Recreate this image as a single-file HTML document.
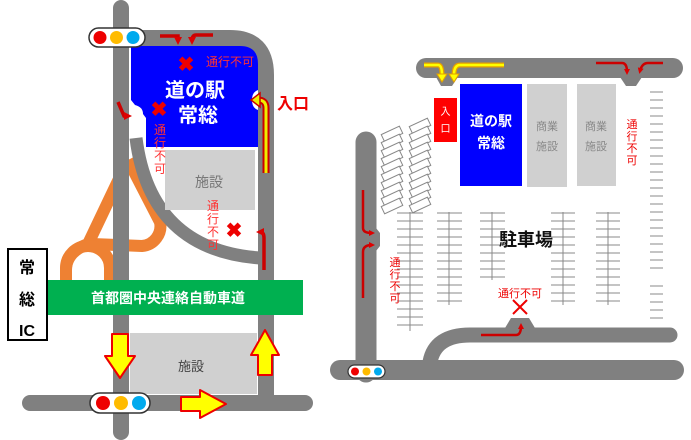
<!DOCTYPE html>
<html><head><meta charset="utf-8"><style>
html,body{margin:0;padding:0;background:#fff;}
svg{display:block;font-family:"Liberation Sans","Noto Sans CJK JP",sans-serif;}
</style></head><body>
<svg width="691" height="440" viewBox="0 0 691 440" xmlns="http://www.w3.org/2000/svg">
<defs>
<marker id="ah" markerWidth="8" markerHeight="8" refX="4" refY="4" orient="auto" markerUnits="userSpaceOnUse"><path d="M0,0 L8,4 L0,8 z" fill="#d00"/></marker>
<marker id="as" markerWidth="6" markerHeight="6" refX="3" refY="3" orient="auto" markerUnits="userSpaceOnUse"><path d="M0,0 L6,3 L0,6 z" fill="#d00"/></marker>
<g id="st"><rect x="-10" y="-4" width="20" height="8" transform="rotate(-25)"/></g>
</defs>
<g fill="none" stroke="#ee8133" stroke-width="12" stroke-linejoin="round">
<path d="M66 284 V270 Q66 252 88 244 L128 160"/>
<path d="M128 160 L160 222 A20 20 0 0 1 142 246 L92 244"/>
<path d="M66 284 V268 A22 22 0 0 1 110 268 V284"/>
</g>
<g fill="none" stroke="#808080" stroke-width="16" stroke-linecap="round">
<line x1="121" y1="8" x2="121" y2="432"/>
<path d="M121 38 H230 Q266 38 266 75 V403"/>
<line x1="30" y1="403" x2="305" y2="403"/>
</g>
<path d="M136 138 Q150 250 260 258" fill="none" stroke="#808080" stroke-width="13"/>
<path d="M131 46 H240 Q258 46 258 64 V90 Q252 92 252 100 Q252 108 258 110 V147 H146 V118 L143 114 Q143 107 135 105 L131 100 Z" fill="#0000ff"/>
<rect x="165" y="150" width="90" height="60" fill="#d0d0d0"/>
<text x="209" y="187" font-size="14" fill="#777" text-anchor="middle">施設</text>
<text x="195" y="97" font-size="20" font-weight="bold" fill="#fff" text-anchor="middle">道の駅</text>
<text x="198" y="122" font-size="20" font-weight="bold" fill="#fff" text-anchor="middle">常総</text>
<g fill="#e00" font-weight="bold" font-size="20" text-anchor="middle">
<text x="186" y="71">✖</text><text x="159" y="116">✖</text><text x="234" y="237">✖</text>
</g>
<text x="206" y="66" font-size="12" fill="#f33">通行不可</text>
<g font-size="12" fill="#f33" text-anchor="middle">
<text x="160" y="134">通</text><text x="160" y="147">行</text><text x="160" y="160">不</text><text x="160" y="173">可</text>
<text x="213" y="210">通</text><text x="213" y="223">行</text><text x="213" y="236">不</text><text x="213" y="249">可</text>
</g>
<g fill="none" stroke="#c00" stroke-width="3.5">
<path d="M160 36 H178 V41" marker-end="url(#ah)"/>
<path d="M213 35 H196 Q192 35 192 41" marker-end="url(#ah)"/>
<path d="M118 102 L124 116 L128 116" marker-end="url(#ah)"/>
<path d="M264 270 V238 Q264 232 260 232" marker-end="url(#ah)"/>
</g>
<path d="M266 173 V108 Q266 100 258 100" fill="none" stroke="#c00" stroke-width="7"/>
<path d="M266 173 V108 Q266 100 258 100" fill="none" stroke="#ee0" stroke-width="3"/>
<path d="M251 100 L260 93 L260 107 Z" fill="#ee0" stroke="#c00" stroke-width="1.5"/>
<text x="277" y="109" font-size="16" font-weight="bold" fill="#e00">入口</text>
<rect x="47" y="280" width="256" height="35" fill="#00b050"/>
<text x="168" y="303" font-size="14" font-weight="bold" fill="#fff" text-anchor="middle">首都圏中央連絡自動車道</text>
<rect x="8" y="249" width="39" height="91" fill="#fff" stroke="#000" stroke-width="2"/>
<g font-size="16" font-weight="bold" text-anchor="middle" fill="#000">
<text x="27" y="273">常</text><text x="27" y="305">総</text><text x="27" y="336">IC</text>
</g>
<rect x="130" y="333" width="127" height="61" fill="#d0d0d0"/>
<text x="191" y="371" font-size="13" fill="#444" text-anchor="middle">施設</text>
<g fill="#ff0" stroke="#e00" stroke-width="2" stroke-linejoin="round">
<path d="M112 334 H128 V356 H135 L120 378 L105 356 H112 Z"/>
<path d="M258 375 H272 V355 H279 L265 330 L251 355 H258 Z"/>
<path d="M181 397 H200 V390 L226 404 L200 418 V411 H181 Z"/>
</g>
<rect x="89" y="28" width="56" height="19" rx="9.5" fill="#fff" stroke="#333" stroke-width="1.5"/>
<circle cx="100" cy="37.5" r="6.5" fill="#e00"/><circle cx="116.5" cy="37.5" r="6.5" fill="#fb0"/><circle cx="133" cy="37.5" r="6.5" fill="#0ae"/>
<rect x="90" y="393" width="60" height="20" rx="10" fill="#fff" stroke="#333" stroke-width="1.5"/>
<circle cx="103" cy="403" r="7" fill="#e00"/><circle cx="121" cy="403" r="7" fill="#fb0"/><circle cx="139" cy="403" r="7" fill="#0ae"/>

<g fill="none" stroke="#808080" stroke-linecap="round">
<line x1="426" y1="68" x2="673" y2="68" stroke-width="20"/>
<line x1="366" y1="142" x2="366" y2="372" stroke-width="21"/>
<line x1="340" y1="370" x2="674" y2="370" stroke-width="20"/>
<path d="M430 362 Q435 335 470 335 H670" stroke-width="15"/>
</g>
<path d="M436 77 H458 L452 86 H441 Z" fill="#808080"/>
<path d="M620 77 H642 L636 86 H626 Z" fill="#808080"/>
<path d="M376 228 L380 233 V246 L376 251 Z" fill="#808080"/>
<path d="M505 328 L511 318 H529 L535 328 Z" fill="#808080"/>
<rect x="434" y="98" width="23" height="44" fill="#f00"/>
<text x="445.5" y="115" font-size="10" fill="#fff" text-anchor="middle">入</text>
<text x="445.5" y="132" font-size="10" fill="#fff" text-anchor="middle">口</text>
<rect x="460" y="84" width="62" height="102" fill="#0000ff"/>
<text x="491" y="126" font-size="14" font-weight="bold" fill="#fff" text-anchor="middle">道の駅</text>
<text x="491" y="148" font-size="14" font-weight="bold" fill="#fff" text-anchor="middle">常総</text>
<rect x="527" y="84" width="40" height="103" fill="#d0d0d0"/>
<rect x="577" y="84" width="39" height="102" fill="#d0d0d0"/>
<g font-size="11" fill="#888" text-anchor="middle">
<text x="547" y="130">商業</text><text x="547" y="150">施設</text>
<text x="596" y="130">商業</text><text x="596" y="150">施設</text>
</g>
<g stroke="#888" stroke-width="1">
<path d="M650 92H663M650 100H663M650 108H663M650 116H663M650 124H663M650 132H663M650 140H663M650 148H663M650 156H663M650 164H663M650 172H663M650 180H663M650 188H663M650 196H663M650 204H663M650 212H663M650 220H663M650 228H663M650 236H663M650 244H663M650 252H663M650 260H663M650 268H663M650 286H663M650 294H663M650 302H663M650 310H663M650 318H663"/>
</g>
<g stroke="#888" stroke-width="1" fill="none">
<path d="M410 212V331M397 213H423M397 221H423M397 229H423M397 237H423M397 245H423M397 253H423M397 261H423M397 269H423M397 277H423M397 285H423M397 293H423M397 301H423M397 309H423M397 317H423M397 325H423"/>
<path d="M449 212V305M437 213H462M437 221H462M437 229H462M437 237H462M437 245H462M437 253H462M437 261H462M437 269H462M437 277H462M437 285H462M437 293H462M437 301H462"/>
<path d="M492 212V280M480 213H505M480 221H505M480 229H505M480 237H505M480 245H505M480 253H505M480 261H505M480 269H505M480 277H505"/>
<path d="M563 212V305M551 213H575M551 221H575M551 229H575M551 237H575M551 245H575M551 253H575M551 261H575M551 269H575M551 277H575M551 285H575M551 293H575M551 301H575"/>
<path d="M608 212V305M596 213H620M596 221H620M596 229H620M596 237H620M596 245H620M596 253H620M596 261H620M596 269H620M596 277H620M596 285H620M596 293H620M596 301H620"/>
</g>
<g stroke="#888" stroke-width="1" fill="#fff">
<use href="#st" x="392" y="134"/><use href="#st" x="392" y="142"/><use href="#st" x="392" y="150"/><use href="#st" x="392" y="158"/><use href="#st" x="392" y="166"/><use href="#st" x="392" y="174"/><use href="#st" x="392" y="182"/><use href="#st" x="392" y="190"/><use href="#st" x="392" y="198"/><use href="#st" x="392" y="206"/>
<use href="#st" x="420" y="126"/><use href="#st" x="420" y="134"/><use href="#st" x="420" y="142"/><use href="#st" x="420" y="150"/><use href="#st" x="420" y="158"/><use href="#st" x="420" y="166"/><use href="#st" x="420" y="174"/><use href="#st" x="420" y="182"/><use href="#st" x="420" y="190"/><use href="#st" x="420" y="198"/><use href="#st" x="420" y="205"/>
</g>
<text x="526" y="246" font-size="18" font-weight="bold" fill="#111" text-anchor="middle">駐車場</text>
<g font-size="11" fill="#e00" text-anchor="middle">
<text x="632" y="128">通</text><text x="632" y="140">行</text><text x="632" y="152">不</text><text x="632" y="164">可</text>
<text x="395" y="266">通</text><text x="395" y="278">行</text><text x="395" y="290">不</text><text x="395" y="302">可</text>
<text x="520" y="297">通行不可</text>
</g>
<path d="M513 300 L527 314 M527 300 L513 314" stroke="#e00" stroke-width="2"/>
<g fill="none" stroke="#c00" stroke-width="2.5">
<path d="M363 190 V228 Q363 233 372 233" marker-end="url(#as)"/>
<path d="M363 298 V252 Q363 245 372 245" marker-end="url(#as)"/>
<path d="M481 335 H516 Q521 335 521 326" marker-end="url(#as)"/>
<path d="M596 63 H622 Q627 63 627 72" marker-end="url(#as)"/>
<path d="M663 63 H648 Q642 63 640 71" marker-end="url(#as)"/>
</g>
<g fill="none" stroke="#e6a000" stroke-width="5">
<path d="M424 65 H438 Q442 65 442 75"/>
<path d="M504 65 H460 Q454 65 454 75"/>
</g>
<g fill="none" stroke="#ff0" stroke-width="2.5">
<path d="M424 65 H438 Q442 65 442 75"/>
<path d="M504 65 H460 Q454 65 454 75"/>
</g>
<path d="M437 74 H447 L442 82 Z M449 74 H459 L454 82 Z" fill="#ff0" stroke="#e6a000" stroke-width="1"/>
<rect x="348" y="365" width="37" height="13" rx="6.5" fill="#fff" stroke="#333" stroke-width="1.2"/>
<circle cx="355" cy="371.5" r="4" fill="#e00"/><circle cx="366.5" cy="371.5" r="4" fill="#fb0"/><circle cx="378" cy="371.5" r="4" fill="#0ae"/>
</svg>
</body></html>
